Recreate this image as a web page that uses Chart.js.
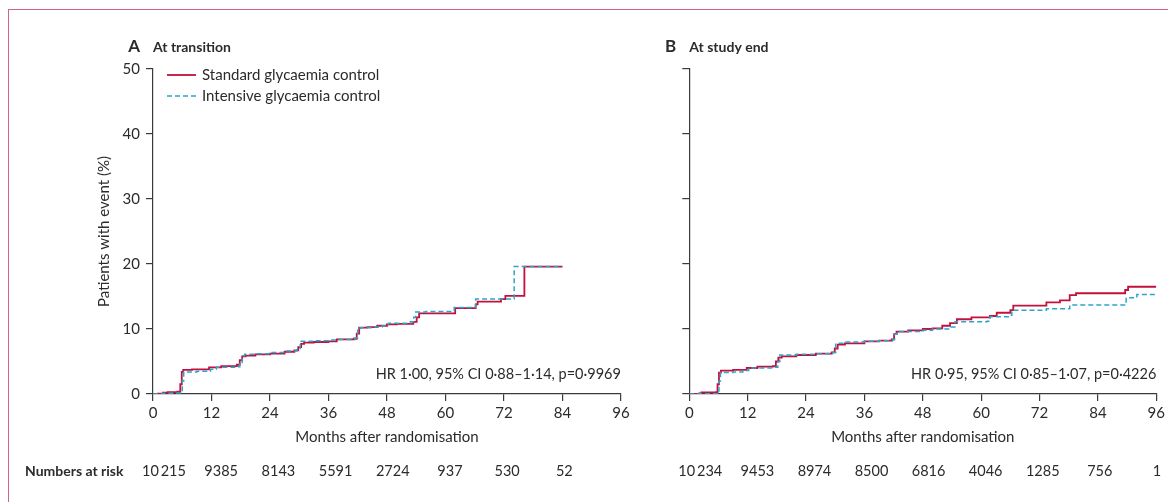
<!DOCTYPE html>
<html>
<head>
<meta charset="utf-8">
<script src="https://cdn.jsdelivr.net/npm/chart.js@4.4.0/dist/chart.umd.min.js"></script>
<style>
body { margin:0; background:#fff; width:1168px; height:502px; overflow:hidden; position:relative; }
.frame { position:absolute; left:8px; top:9px; width:1300px; height:700px; border-top:1.5px solid #d4618b; border-left:1.5px solid #d4618b; }
#panelA { position:absolute; left:0; top:0; }
#panelB { position:absolute; left:640px; top:0; }
</style>
</head>
<body>
<div class="frame"></div>
<canvas id="panelA" width="640" height="502"></canvas>
<canvas id="panelB" width="528" height="502"></canvas>
<script>
// x axis ticks (months)
const monthTicks = [0, 12, 24, 36, 48, 60, 72, 84, 96];

// A - at transition
const transStdMonths = [0, 1, 2, 3, 5, 5.6, 5.9, 6.2, 8, 11.5, 14, 17.2, 17.8, 18.3, 19, 21, 24, 27, 29, 29.8, 30.4, 31, 33, 36, 37.7, 41.2, 41.8, 42.3, 44, 46, 48, 50, 53.4, 54.1, 54.6, 62, 66.2, 66.6, 71.4, 72.3, 76.2, 84];
const transStdPct = [0, 0.05, 0.2, 0.3, 0.35, 1.5, 3.4, 3.7, 3.8, 4.1, 4.3, 4.5, 5.2, 5.8, 5.9, 6.1, 6.2, 6.5, 6.7, 7.2, 7.7, 7.9, 8.0, 8.1, 8.4, 8.5, 9.3, 10.2, 10.3, 10.5, 10.7, 10.8, 11.1, 11.8, 12.4, 13.2, 13.8, 14.2, 14.6, 15.1, 19.6, 19.6];
const transIntMonths = [0, 2, 4, 5.8, 6.0, 6.3, 9, 11.8, 13, 17, 17.8, 18.3, 18.8, 21, 24, 27, 29.5, 30.2, 33, 36, 38, 41.4, 42.0, 42.5, 45, 47, 48.3, 52.8, 53.5, 53.9, 56, 61.8, 66.2, 74.1, 84];
const transIntPct = [0, 0.1, 0.15, 0.2, 2.0, 3.4, 3.5, 3.8, 4.1, 4.2, 4.6, 5.9, 6.1, 6.2, 6.4, 6.6, 6.8, 8.1, 8.2, 8.3, 8.4, 8.6, 9.8, 10.2, 10.3, 10.5, 10.9, 11.1, 11.8, 12.6, 12.7, 13.3, 14.6, 19.6, 19.6];
const transRisk = [10215, 9385, 8143, 5591, 2724, 937, 530, 52];

// B - at study end
const endStdMonths = [0, 2, 2.5, 5.5, 5.8, 6.1, 6.5, 9, 11.8, 14, 17.2, 17.8, 18.3, 19, 22, 26, 29.3, 29.9, 30.5, 32, 36, 39, 41.6, 42.1, 42.6, 45, 48, 50, 52, 53.6, 55, 58, 61.8, 63.2, 66, 66.6, 73.4, 76.2, 78.2, 79.5, 89.6, 90.2, 96];
const endStdPct = [0, 0.1, 0.25, 0.3, 1.5, 3.3, 3.6, 3.7, 4.0, 4.2, 4.3, 5.0, 5.6, 5.8, 6.0, 6.2, 6.4, 7.0, 7.6, 7.8, 8.1, 8.2, 8.4, 9.2, 9.6, 9.8, 10.0, 10.1, 10.5, 10.9, 11.5, 11.8, 12.0, 12.5, 12.9, 13.6, 14.1, 14.4, 15.2, 15.5, 16.0, 16.5, 16.5];
const endIntMonths = [0, 2, 5.8, 6.1, 6.4, 9, 11, 12.2, 17.5, 18.2, 18.6, 22, 26, 29.5, 30.1, 32, 36, 39, 41.8, 42.2, 42.7, 48, 50, 53.8, 54.6, 61.2, 61.8, 66, 66.3, 73.4, 78.2, 89.8, 92, 96];
const endIntPct = [0, 0.05, 0.2, 2.0, 3.3, 3.4, 3.6, 4.0, 4.1, 5.0, 6.0, 6.1, 6.2, 6.4, 7.8, 8.0, 8.1, 8.2, 8.4, 9.2, 9.6, 9.8, 10.0, 10.3, 11.1, 11.2, 11.9, 12.1, 12.9, 13.1, 13.7, 14.8, 15.3, 15.3];
const endRisk = [10234, 9453, 8974, 8500, 6816, 4046, 1285, 756, 1];

const STD_COLOR = '#c2113d';
const INT_COLOR = '#2ba6cb';
const TEXT = '#2b2b2b';
const AXIS = '#3a3a3a';

Chart.defaults.font.family = 'Lato';
Chart.defaults.font.size = 15;
Chart.defaults.color = TEXT;

function toPoints(months, pct) {
    return months.map((m, i) => ({x: m, y: pct[i]}));
}

function riskLabel(n) {
    return String(n).replace(/(\d+)(\d{3})$/, (s, a, b) => n >= 10000 ? a + '\u2009' + b : s);
}

// letter, title, legend, HR text and numbers at risk
const panelText = {
    id: 'panelText',
    afterDraw(chart, args, o) {
        const {ctx, chartArea: area} = chart;
        const x = chart.scales.x;
        ctx.save();
        ctx.fillStyle = TEXT;
        ctx.textBaseline = 'middle';
        ctx.font = 'bold 17px Lato';
        ctx.textAlign = 'right';
        ctx.fillText(o.letter, area.left - 13, 47);
        ctx.font = 'bold 14px Lato';
        ctx.textAlign = 'left';
        ctx.fillText(o.title, area.left, 47);

        if (o.legend) {
            chart.data.datasets.forEach((ds, i) => {
                const y = area.top + 6 + i * 21;
                ctx.strokeStyle = ds.borderColor;
                ctx.lineWidth = ds.borderWidth;
                ctx.setLineDash(ds.borderDash || []);
                ctx.beginPath();
                ctx.moveTo(area.left + 14, y);
                ctx.lineTo(area.left + 43, y);
                ctx.stroke();
                ctx.setLineDash([]);
                ctx.font = '15px Lato';
                ctx.fillText(ds.label, area.left + 49, y);
            });
        }

        ctx.font = '14.5px Lato';
        ctx.textAlign = 'right';
        ctx.fillText(o.hr, area.right, area.bottom - 20);

        ctx.textAlign = 'center';
        o.risk.forEach((n, i) => {
            ctx.fillText(riskLabel(n), x.getPixelForValue(monthTicks[i]) + 11 - 1.3 * i, 471);
        });
        if (o.riskTitle) {
            ctx.font = 'bold 14px Lato';
            ctx.textAlign = 'left';
            ctx.fillText(o.riskTitle, area.left - 128, 471);
        }
        ctx.restore();
    }
};

function makePanel(canvasId, cfg) {
    return new Chart(document.getElementById(canvasId), {
        type: 'line',
        data: {
            datasets: [{
                label: 'Standard glycaemia control',
                data: toPoints(cfg.stdMonths, cfg.stdPct),
                borderColor: STD_COLOR,
                borderWidth: 1.8,
                stepped: true,
                pointRadius: 0,
                order: 1
            }, {
                label: 'Intensive glycaemia control',
                data: toPoints(cfg.intMonths, cfg.intPct),
                borderColor: INT_COLOR,
                borderWidth: 1.5,
                borderDash: [5, 3],
                stepped: true,
                pointRadius: 0,
                order: 0
            }]
        },
        options: {
            responsive: false,
            animation: false,
            events: [],
            layout: {padding: cfg.padding},
            plugins: {
                legend: {display: false},
                tooltip: {enabled: false},
                panelText: cfg.text
            },
            scales: {
                x: {
                    type: 'linear', min: 0, max: 96,
                    ticks: {stepSize: 12, padding: 3},
                    grid: {drawOnChartArea: false, drawTicks: true, tickLength: 7, color: AXIS, lineWidth: 1.2},
                    border: {color: AXIS, width: 1.2},
                    title: {display: true, text: 'Months after randomisation', padding: 0},
                    afterFit: (s) => { s.height = 52; }
                },
                y: {
                    min: 0, max: 50,
                    ticks: {stepSize: 10, padding: 6, display: cfg.yLabels},
                    grid: {drawOnChartArea: false, drawTicks: true, tickLength: 7, color: AXIS, lineWidth: 1.2},
                    border: {color: AXIS, width: 1.2},
                    title: {display: cfg.yLabels, text: 'Patients with event (%)', padding: {top: 2, bottom: 0}},
                    afterFit: (s) => { s.width = cfg.yWidth; }
                }
            }
        },
        plugins: [panelText]
    });
}

makePanel('panelA', {
    stdMonths: transStdMonths, stdPct: transStdPct,
    intMonths: transIntMonths, intPct: transIntPct,
    yLabels: true, yWidth: 60,
    padding: {left: 93, right: 19.1, top: 69, bottom: 56},
    text: {letter: 'A', title: 'At transition', legend: true,
        hr: 'HR 1·00, 95% CI 0·88–1·14, p=0·9969',
        risk: transRisk, riskTitle: 'Numbers at risk'}
});

makePanel('panelB', {
    stdMonths: endStdMonths, stdPct: endStdPct,
    intMonths: endIntMonths, intPct: endIntPct,
    yLabels: false, yWidth: 20,
    padding: {left: 29.3, right: 11.2, top: 69, bottom: 56},
    text: {letter: 'B', title: 'At study end', legend: false,
        hr: 'HR 0·95, 95% CI 0·85–1·07, p=0·4226',
        risk: endRisk}
});
</script>
</body>
</html>
